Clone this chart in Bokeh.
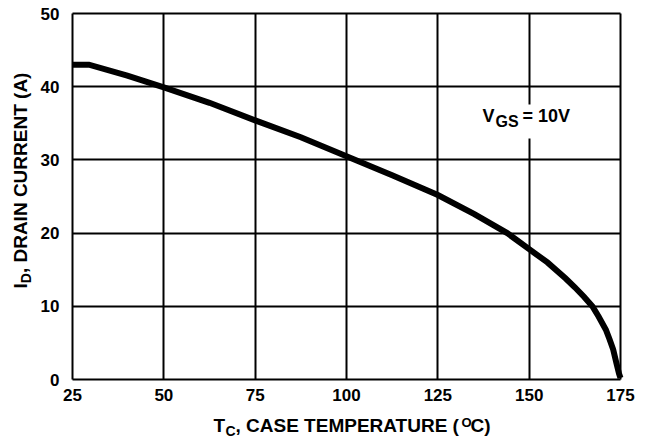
import math
from bokeh.plotting import figure
from bokeh.models import Range1d, FixedTicker, Label, BoxAnnotation, Grid
from bokeh.embed import file_html
from bokeh.resources import INLINE

# ---- data ----
case_temp = [25, 29.5, 40, 50, 62.5, 75, 87.5, 100, 112.5, 125, 135, 144,
             150, 155, 160, 162.5, 165, 167.3, 169, 171, 172, 173, 174, 174.6, 175]
drain_current = [43, 43, 41.5, 39.9, 37.8, 35.4, 33.1, 30.5, 27.9, 25.2, 22.6, 20.0,
                 17.8, 16.0, 13.8, 12.6, 11.3, 10.0, 8.6, 6.8, 5.5, 4.1, 2.0, 0.8, 0.2]
x_ticks = [25, 50, 75, 100, 125, 150, 175]
y_ticks = [0, 10, 20, 30, 40, 50]

FONT = "Liberation Sans"

# canvas and the plot box (page pixels)
W, H = 645, 442
FL, FR, FT, FB = 72, 620, 13, 379
X0, X1, Y0, Y1 = x_ticks[0], x_ticks[-1], y_ticks[0], y_ticks[-1]
sx = (FR - FL) / (X1 - X0)
sy = (FB - FT) / (Y1 - Y0)

p = figure(width=W, height=H,
           x_range=Range1d(X0 - FL / sx, X1 + (W - FR) / sx),
           y_range=Range1d(Y0 - (H - FB) / sy, Y1 + FT / sy),
           output_backend="svg", toolbar_location=None,
           min_border_left=0, min_border_right=0, min_border_top=0, min_border_bottom=0)
p.background_fill_color = "white"
p.border_fill_color = "white"
p.outline_line_color = None

def dx(px):
    return X0 + (px - FL) / sx
def dy(py):
    return Y0 + (FB - py) / sy

xa, ya = p.xaxis[0], p.yaxis[0]
xa.fixed_location = Y0
ya.fixed_location = X0
for ax in (xa, ya):
    ax.axis_line_color = None
    ax.major_tick_line_color = None
    ax.minor_tick_line_color = None
    ax.major_tick_in = 0
    ax.major_tick_out = 0
    ax.major_label_text_font = FONT
    ax.major_label_text_font_style = "bold"
    ax.major_label_text_font_size = "17px"
    ax.major_label_text_color = "black"
xa.ticker = FixedTicker(ticks=x_ticks)
ya.ticker = FixedTicker(ticks=y_ticks)
xa.major_label_standoff = 9
ya.major_label_standoff = 13

xg, yg = p.xgrid[0], p.ygrid[0]
xg.ticker = FixedTicker(ticks=x_ticks)
yg.ticker = FixedTicker(ticks=y_ticks)
has_cross = "cross_bounds" in Grid.properties()
for g in (xg, yg):
    g.grid_line_color = "black"
    g.grid_line_width = 2
if has_cross:
    xg.cross_bounds = (Y0, Y1)
    yg.cross_bounds = (X0, X1)
else:
    xg.visible = False
    yg.visible = False
    p.segment(x0=x_ticks, y0=[Y0] * len(x_ticks), x1=x_ticks, y1=[Y1] * len(x_ticks),
              line_color="black", line_width=2)
    p.segment(x0=[X0] * len(y_ticks), y0=y_ticks, x1=[X1] * len(y_ticks), y1=y_ticks,
              line_color="black", line_width=2)

p.line(case_temp, drain_current, line_color="black", line_width=6, line_join="miter")

SHIFT = 0.42  # label baseline correction, in em

def lab(px, py, text, size, angle=0.0):
    s = float(size.replace("px", ""))
    if angle:
        px -= SHIFT * s
    else:
        py -= SHIFT * s
    p.add_layout(Label(x=dx(px), y=dy(py), text=text, text_font=FONT,
                       text_font_style="bold", text_font_size=size, text_color="black",
                       text_align="left", text_baseline="alphabetic", angle=angle))

# V_GS annotation with white backing
p.add_layout(BoxAnnotation(left=dx(476), right=dx(580), top=dy(104), bottom=dy(138),
                           fill_color="white", fill_alpha=1, line_color=None))
lab(482, 123, "V", "18px")
lab(495, 128, "GS", "16px")
lab(522, 123, "= 10V", "18px")

# x axis title: T_C, CASE TEMPERATURE (°C)
lab(213, 433, "T", "19px")
lab(225, 436, "C", "14px")
lab(235, 433, ", CASE TEMPERATURE (", "19px")
lab(461, 427, "O", "13px")
lab(470, 433, "C)", "19px")

# y axis title: I_D, DRAIN CURRENT (A)
r = math.pi / 2
lab(28, 288, "I", "19px", r)
lab(31, 282.7, "D", "14px", r)
lab(28, 272.6, ", DRAIN CURRENT (A)", "19px", r)

open("out.html", "w").write(file_html(p, INLINE))
